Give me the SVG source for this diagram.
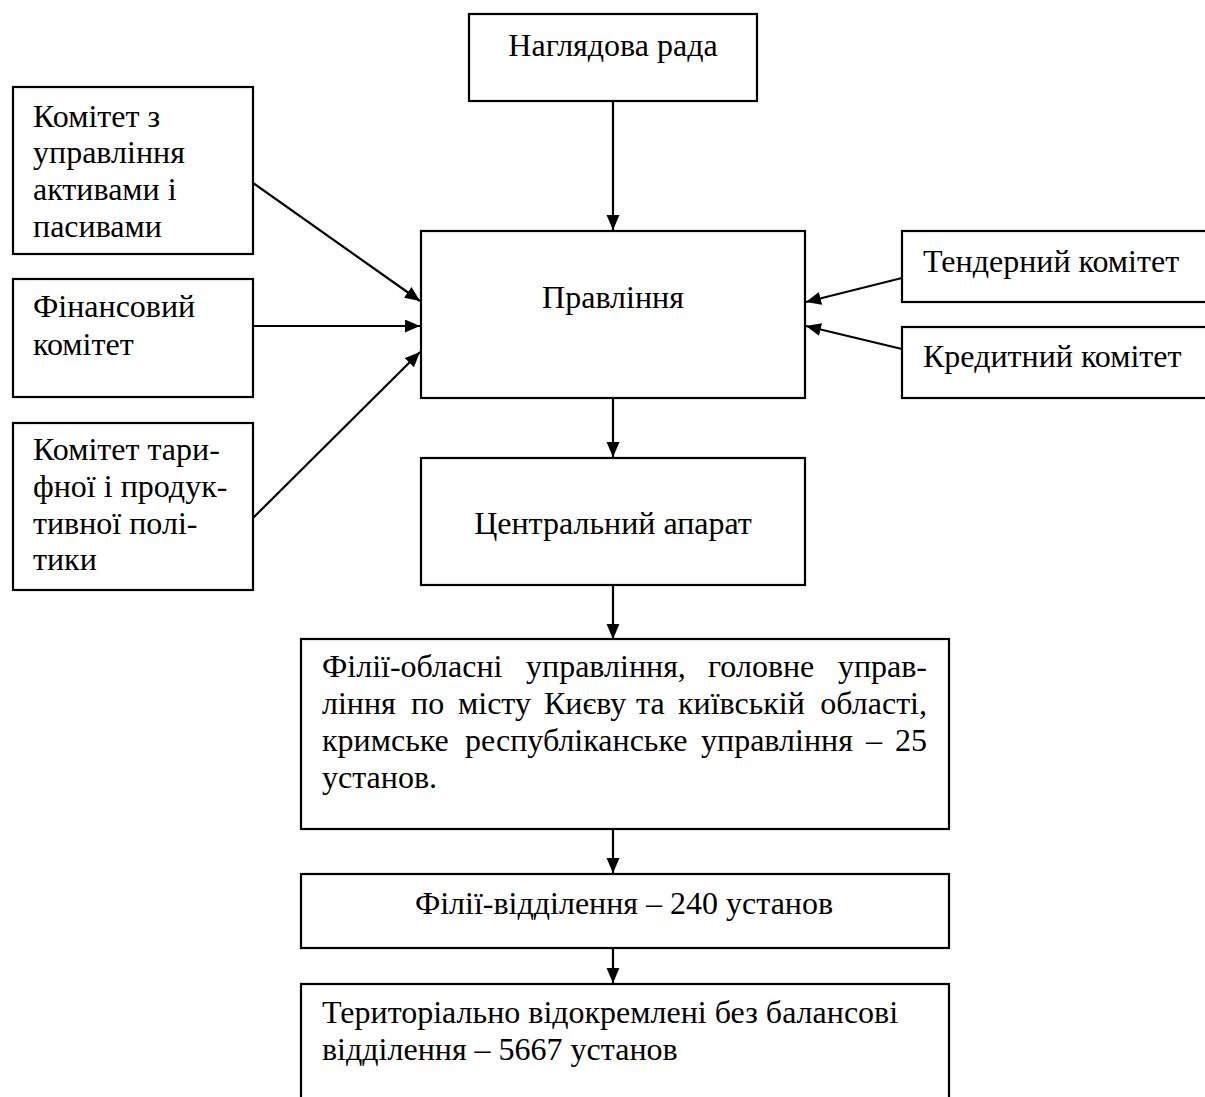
<svg xmlns="http://www.w3.org/2000/svg" width="1205" height="1097" viewBox="0 0 1205 1097">
<style>
.box{fill:#fff;stroke:#000;stroke-width:2.2}
.t{font-family:"Liberation Serif","Times New Roman",serif;font-size:32px;fill:#000}
.c{text-anchor:middle}
.e{text-anchor:end}
.ln{stroke:#000;stroke-width:2.2;fill:none;marker-end:url(#ah)}
</style>
<defs>
<marker id="ah" markerUnits="userSpaceOnUse" markerWidth="16" markerHeight="14" refX="15" refY="6.5" orient="auto">
<path d="M0,0 L15,6.5 L0,13 z" fill="#000"/>
</marker>
</defs>
<rect width="1205" height="1097" fill="#fff"/>
<g id="connectors">
<line class="ln" x1="613" y1="101" x2="613" y2="230"/>
<line class="ln" x1="613" y1="398" x2="613" y2="457"/>
<line class="ln" x1="613" y1="585" x2="613" y2="639"/>
<line class="ln" x1="613" y1="829" x2="613" y2="873"/>
<line class="ln" x1="613" y1="948" x2="613" y2="983"/>
<line class="ln" x1="253" y1="183" x2="420" y2="301"/>
<line class="ln" x1="253" y1="326" x2="420" y2="326"/>
<line class="ln" x1="253" y1="518" x2="420" y2="352"/>
<line class="ln" x1="902" y1="278" x2="806" y2="302"/>
<line class="ln" x1="902" y1="349" x2="806" y2="326"/>
</g>
<g id="n-nahliadova">
<rect class="box" x="469" y="14" width="288" height="87"/>
<text class="t c" x="613" y="56">Наглядова рада</text>
</g>
<g id="n-pravlinnia">
<rect class="box" x="421" y="231" width="384" height="167"/>
<text class="t c" x="613" y="308">Правління</text>
</g>
<g id="n-tsentralnyi">
<rect class="box" x="421" y="458" width="384" height="127"/>
<text class="t c" x="613" y="534">Центральний апарат</text>
</g>
<g id="n-komitet-aktyvy">
<rect class="box" x="13" y="87" width="240" height="167"/>
<text class="t" x="33" y="127">Комітет з</text>
<text class="t" x="33" y="163">управління</text>
<text class="t" x="33" y="200">активами і</text>
<text class="t" x="33" y="237">пасивами</text>
</g>
<g id="n-finansovyi">
<rect class="box" x="13" y="279" width="240" height="118"/>
<text class="t" x="33" y="317">Фінансовий</text>
<text class="t" x="33" y="355">комітет</text>
</g>
<g id="n-taryfnyi">
<rect class="box" x="13" y="423" width="240" height="167"/>
<text class="t" x="33" y="460">Комітет тари-</text>
<text class="t" x="33" y="497">фної і продук-</text>
<text class="t" x="33" y="534">тивної полі-</text>
<text class="t" x="33" y="570">тики</text>
</g>
<g id="n-tendernyi">
<rect class="box" x="902" y="231" width="320" height="71"/>
<text class="t" x="923" y="272">Тендерний комітет</text>
</g>
<g id="n-kredytnyi">
<rect class="box" x="902" y="327" width="320" height="71"/>
<text class="t" x="923" y="367">Кредитний комітет</text>
</g>
<g id="n-filii-oblasni">
<rect class="box" x="301" y="639" width="648" height="190"/>
<text class="t" x="322" y="677">Філії-обласні</text>
<text class="t" x="526" y="677">управління,</text>
<text class="t" x="708" y="677">головне</text>
<text class="t e" x="927" y="677">управ-</text>
<text class="t" x="322" y="714">ління</text>
<text class="t" x="411" y="714">по</text>
<text class="t" x="458" y="714">місту</text>
<text class="t" x="544" y="714">Києву</text>
<text class="t" x="636" y="714">та</text>
<text class="t" x="678" y="714">київській</text>
<text class="t e" x="927" y="714">області,</text>
<text class="t" x="322" y="751">кримське</text>
<text class="t" x="465" y="751">республіканське</text>
<text class="t" x="701" y="751">управління</text>
<text class="t" x="866" y="751">–</text>
<text class="t e" x="927" y="751">25</text>
<text class="t" x="322" y="788">установ.</text>
</g>
<g id="n-filii-viddilennia">
<rect class="box" x="301" y="874" width="648" height="74"/>
<text class="t c" x="624" y="914">Філії-відділення – 240 установ</text>
</g>
<g id="n-terytorialno">
<rect class="box" x="301" y="984" width="648" height="130"/>
<text class="t" x="322" y="1023">Територіально відокремлені без балансові</text>
<text class="t" x="322" y="1060">відділення – 5667 установ</text>
</g>
</svg>
